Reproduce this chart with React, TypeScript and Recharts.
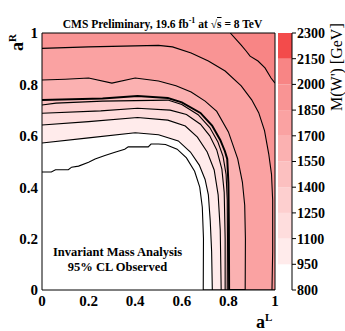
import React from "react";
import {
  ComposedChart,
  Area,
  XAxis,
  YAxis,
  ReferenceArea,
} from "recharts";

// contour levels of the colour scale, in GeV
const levels = [800, 950, 1100, 1250, 1400, 1550, 1700, 1850, 2000, 2150, 2300];
const bandColors = [
  "#ffffff", "#ffebeb", "#fedddd", "#fdcfcf", "#fcc0c0",
  "#fbb1b1", "#faa2a2", "#f99494", "#f88585", "#f34b4b",
];

// contour lines as [aL, aR]
const c800 = [[0, 0.459], [0.04, 0.459], [0.058, 0.468], [0.113, 0.468], [0.127, 0.478], [0.157, 0.482], [0.2, 0.497], [0.228, 0.51], [0.27, 0.523], [0.313, 0.536], [0.355, 0.548], [0.37, 0.557], [0.456, 0.557], [0.468, 0.568], [0.5, 0.568], [0.53, 0.566], [0.58, 0.548], [0.62, 0.514], [0.655, 0.462], [0.677, 0.4], [0.688, 0.322], [0.693, 0.2], [0.692, 0]];
const c950 = [[0, 0.572], [0.2, 0.592], [0.4, 0.612], [0.5, 0.604], [0.585, 0.58], [0.637, 0.537], [0.675, 0.486], [0.7, 0.43], [0.714, 0.37], [0.722, 0.27], [0.728, 0.15], [0.731, 0]];
const c1100 = [[0, 0.642], [0.2, 0.655], [0.41, 0.671], [0.54, 0.661], [0.615, 0.638], [0.667, 0.595], [0.709, 0.537], [0.739, 0.467], [0.756, 0.37], [0.765, 0.233], [0.769, 0]];
const c1250 = [[0, 0.688], [0.252, 0.697], [0.41, 0.707], [0.55, 0.7], [0.62, 0.683], [0.68, 0.645], [0.72, 0.6], [0.75, 0.545], [0.772, 0.47], [0.782, 0.38], [0.786, 0.2], [0.786, 0]];
const c1400 = [[0, 0.72], [0.06, 0.727], [0.26, 0.735], [0.54, 0.739], [0.6, 0.722], [0.67, 0.682], [0.72, 0.632], [0.755, 0.576], [0.777, 0.52], [0.79, 0.45], [0.795, 0.35], [0.796, 0.2], [0.795, 0]];
const c1550 = [[0, 0.739], [0.26, 0.745], [0.41, 0.755], [0.54, 0.747], [0.6, 0.73], [0.68, 0.689], [0.73, 0.64], [0.765, 0.584], [0.785, 0.54], [0.795, 0.51], [0.8, 0.416], [0.802, 0.25], [0.803, 0]];
const c1700 = [[0, 0.817], [0.1, 0.82], [0.2, 0.825], [0.3, 0.805], [0.4, 0.825], [0.5, 0.813], [0.575, 0.795], [0.64, 0.77], [0.7, 0.735], [0.75, 0.695], [0.8, 0.615], [0.84, 0.51], [0.86, 0.42], [0.87, 0.33], [0.873, 0.2], [0.872, 0]];
const c1850 = [[0, 0.94], [0.2, 0.946], [0.5, 0.952], [0.56, 0.946], [0.64, 0.922], [0.714, 0.891], [0.786, 0.852], [0.855, 0.794], [0.9, 0.74], [0.93, 0.69], [0.955, 0.62], [0.973, 0.53], [0.985, 0.45], [0.99, 0.35], [0.99, 0.15], [0.987, 0]];
const c2000 = [[0.808, 1], [0.855, 0.953], [0.876, 0.93], [0.893, 0.91], [0.927, 0.891], [0.957, 0.864], [0.983, 0.825], [1, 0.805]];

const contours = [c800, c950, c1100, c1250, c1400, c1550, c1700, c1850, c2000];

const majorTicks = [0, 0.2, 0.4, 0.6, 0.8, 1];
const minorTicks = [0.05, 0.1, 0.15, 0.25, 0.3, 0.35, 0.45, 0.5, 0.55, 0.65, 0.7, 0.75, 0.85, 0.9, 0.95];
const barSpan = [{ x: 0 }, { x: 1 }];

const serif = "'Liberation Serif', 'Times New Roman', serif";
const tickFont = { fontFamily: serif, fontWeight: "bold", fontSize: 15, fill: "#000" };

// region above/right of each contour, closed along the bottom edge
const toRows = (pts: number[][]) => {
  const rows = pts.map(([x, y]) => ({ x, y }));
  const last = pts[pts.length - 1];
  if (last[1] === 0) rows.push({ x: 1, y: 0 });
  return rows;
};

const tickAxes = () => {
  const out: React.ReactNode[] = [];
  [["maj", majorTicks, 8], ["min", minorTicks, 4]].forEach(([name, ticks, size]: any) => {
    out.push(
      <XAxis key={`b${name}`} xAxisId={`b${name}`} type="number" domain={[0, 1]} allowDataOverflow ticks={ticks} interval={0} mirror orientation="bottom" tick={false} tickSize={size} axisLine={false} tickLine={{ stroke: "#000" }} />,
      <XAxis key={`t${name}`} xAxisId={`t${name}`} type="number" domain={[0, 1]} allowDataOverflow ticks={ticks} interval={0} mirror orientation="top" tick={false} tickSize={size} axisLine={name === "maj" ? { stroke: "#000" } : false} tickLine={{ stroke: "#000" }} />,
      <YAxis key={`l${name}`} yAxisId={`l${name}`} type="number" domain={[0, 1]} allowDataOverflow ticks={ticks} interval={0} mirror orientation="left" tick={false} tickSize={size} axisLine={false} tickLine={{ stroke: "#000" }} />,
      <YAxis key={`r${name}`} yAxisId={`r${name}`} type="number" domain={[0, 1]} allowDataOverflow ticks={ticks} interval={0} mirror orientation="right" tick={false} tickSize={size} axisLine={name === "maj" ? { stroke: "#000" } : false} tickLine={{ stroke: "#000" }} />
    );
  });
  return out;
};

const App: React.FC = () => {
  return (
    <div style={{ position: "absolute", left: 0, top: 0, width: 345, height: 331, background: "#fff" }}>
      <ComposedChart width={345} height={331} margin={{ top: 33, right: 70, bottom: 11, left: 12 }}>
        {contours.map((pts, i) => (
          <Area
            key={levels[i]}
            data={toRows(pts)}
            dataKey="y"
            type="linear"
            baseValue={1}
            fill={bandColors[i]}
            fillOpacity={1}
            stroke="#000"
            strokeWidth={levels[i] === 1550 ? 2 : 1.1}
            dot={false}
            activeDot={false}
            isAnimationActive={false}
          />
        ))}
        <XAxis
          dataKey="x"
          type="number"
          domain={[0, 1]}
          allowDataOverflow
          ticks={majorTicks}
          interval={0}
          height={30}
          tickLine={false}
          tickSize={0}
          tickMargin={5}
          axisLine={{ stroke: "#000" }}
          tick={tickFont}
        />
        <YAxis
          type="number"
          domain={[0, 1]}
          allowDataOverflow
          ticks={majorTicks}
          interval={0}
          width={30}
          tickLine={false}
          tickSize={0}
          tickMargin={4}
          axisLine={{ stroke: "#000" }}
          tick={tickFont}
        />
        {tickAxes()}
      </ComposedChart>

      {/* colour scale */}
      <div style={{ position: "absolute", left: 270, top: 0 }}>
        <ComposedChart width={75} height={331} data={barSpan} margin={{ top: 33, right: 0, bottom: 41, left: 8 }}>
          <XAxis dataKey="x" type="number" domain={[0, 1]} allowDataOverflow hide />
          <YAxis
            type="number"
            orientation="right"
            domain={[800, 2300]}
            allowDataOverflow
            ticks={levels}
            interval={0}
            width={53}
            tickSize={4}
            tickMargin={1}
            tickLine={{ stroke: "#000" }}
            axisLine={{ stroke: "#000" }}
            tick={{ ...tickFont, fontSize: 14, textAnchor: "start" }}
          />
          {bandColors.map((c, i) => (
            <ReferenceArea key={c} x1={0} x2={1} y1={levels[i]} y2={levels[i + 1]} fill={c} fillOpacity={1} stroke="none" ifOverflow="visible" />
          ))}
        </ComposedChart>
      </div>

      <div style={{ position: "absolute", left: -10, width: 345, top: 16, textAlign: "center", fontFamily: serif, fontWeight: "bold", fontSize: 11.5 }}>
        CMS Preliminary, 19.6 fb<sup style={{ fontSize: 8 }}>-1</sup> at √<span style={{ textDecoration: "overline" }}>s</span> = 8 TeV
      </div>
      <div style={{ position: "absolute", left: 40, width: 155, top: 245, textAlign: "center", fontFamily: serif, fontWeight: "bold", fontSize: 12.5, lineHeight: "15px" }}>
        Invariant Mass Analysis
        <br />
        95% CL Observed
      </div>
      <div style={{ position: "absolute", left: 256, top: 306, height: 22, fontFamily: serif, fontWeight: "bold", fontSize: 18, lineHeight: "22px" }}>
        a<sup style={{ fontSize: 11 }}>L</sup>
      </div>
      <div style={{ position: "absolute", left: 2, top: 31, width: 20, height: 20, transform: "rotate(-90deg)", transformOrigin: "center", fontFamily: serif, fontWeight: "bold", fontSize: 18, lineHeight: "20px", whiteSpace: "nowrap" }}>
        a<sup style={{ fontSize: 11 }}>R</sup>
      </div>
      <div style={{ position: "absolute", left: 297, top: 63, width: 80, height: 16, transform: "rotate(-90deg)", transformOrigin: "center", fontFamily: serif, fontSize: 16, lineHeight: "16px", whiteSpace: "nowrap", textAlign: "center" }}>
        M(W') [GeV]
      </div>
    </div>
  );
};

export default App;
